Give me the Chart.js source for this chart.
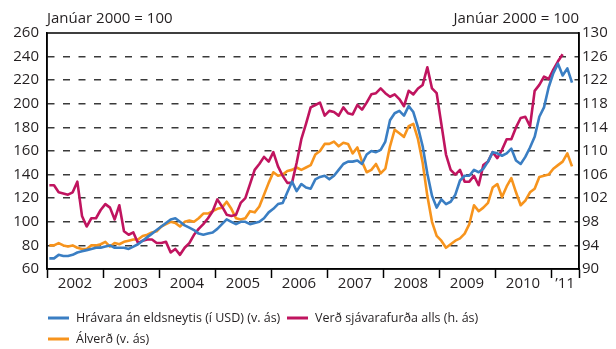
<!DOCTYPE html>
<html lang="is">
<head>
<meta charset="UTF-8">
<title>Hrávöruverð og verð sjávarafurða</title>
<script src="https://cdn.jsdelivr.net/npm/chart.js@4.4.0/dist/chart.umd.min.js"></script>
<style>
  html, body { margin: 0; padding: 0; background: #fff; }
  .wrap { width: 616px; height: 349px; position: relative; }
</style>
</head>
<body>
<div class="wrap"><canvas id="chart"></canvas></div>
<script>
// Mánaðargildi, janúar 2002 - maí 2011 (janúar 2000 = 100)
const hravara = [
  69, 69, 72, 71, 71, 72, 74, 75, 76, 77, 78, 78,
  79, 80, 78, 78, 78, 77, 79, 81, 84, 87, 90, 93,
  96, 99, 102, 103, 100, 97, 95, 93, 90, 89, 90, 91,
  94, 98, 102, 100, 98, 100, 100, 98, 99, 100, 103, 108,
  111, 115, 116, 125, 134, 126, 132, 129, 128, 136, 138, 139,
  136, 139, 144, 149, 151, 151, 152, 149, 157, 160, 159, 161,
  168, 186, 192, 194, 190, 198, 193, 180, 164, 141, 122, 112,
  119, 115, 117, 123, 135, 139, 139, 144, 142, 145, 151, 159,
  158, 156, 158, 162, 152, 149, 155, 163, 172, 189, 197, 214,
  226, 234, 224, 230, 218
];
const sjavarafurdir = [
  104.2, 104.2, 103.0, 102.8, 102.6, 103.0, 104.8, 99.0, 97.2, 98.6, 98.6, 100.0,
  101.0, 100.4, 98.4, 100.8, 96.4, 95.8, 96.2, 94.4, 94.8, 95.0, 95.0, 94.4,
  94.4, 94.6, 92.8, 93.4, 92.4, 93.6, 94.4, 95.8, 96.8, 97.6, 98.6, 99.8,
  101.8, 100.6, 99.2, 99.0, 99.2, 101.2, 102.0, 104.4, 106.8, 107.8, 109.0, 108.2,
  109.8, 107.4, 105.8, 104.6, 104.6, 108.0, 112.0, 114.6, 117.4, 117.8, 118.2, 116.0,
  116.8, 116.6, 116.0, 117.4, 116.4, 116.2, 117.8, 117.0, 118.2, 119.6, 119.8, 120.6,
  119.8, 119.2, 119.6, 118.8, 117.6, 120.2, 119.6, 120.6, 121.2, 124.2, 120.6, 119.8,
  114.6, 109.4, 106.8, 106.0, 106.8, 104.8, 104.8, 105.8, 104.2, 107.6, 108.2, 109.8,
  108.8, 110.2, 112.0, 112.0, 114.0, 115.6, 115.8, 114.2, 120.2, 121.2, 122.6, 122.2,
  123.8, 125.2, 126.4
];
const alverd = [
  80, 80, 82, 80, 79, 80, 78, 77, 77, 80, 80, 81,
  83, 79, 82, 81, 83, 84, 85, 85, 88, 89, 91, 92,
  96, 98, 100, 99, 96, 100, 101, 100, 103, 107, 107, 109,
  111, 112, 117, 111, 103, 102, 103, 109, 108, 113, 123, 133,
  142, 139, 140, 143, 144, 146, 144, 146, 148, 157, 160, 166,
  166, 168, 164, 167, 166, 158, 163, 151, 142, 144, 149, 141,
  145, 164, 178, 175, 172, 181, 183, 170, 150, 122, 100, 88,
  84, 78, 81, 84, 86, 90, 98, 114, 109, 112, 116, 129,
  132, 121, 130, 137, 125, 114, 118, 125, 128, 138, 139, 140,
  145, 148, 151, 158, 147
];
const seriesNames = [
  'Hrávara án eldsneytis (í USD) (v. ás)',
  'Verð sjávarafurða alls (h. ás)',
  'Álverð (v. ás)'
];
const yearLabels = ['2002', '2003', '2004', '2005', '2006', '2007', '2008', '2009', '2010', '\u201911'];
// mánaðarnúmer þar sem hvert ár byrjar (síðasta gildi = hægri brún)
const yearBounds = [0, 12, 24, 36, 48, 60, 72, 84, 96, 108, 114];
const axisTitle = 'Janúar 2000 = 100';

const FONT = "'Open Sans', 'Noto Sans', sans-serif";
const TEXT = '#231f20';
const colors = ['#3a7ec3', '#c0145f', '#f7941d'];

// hvert gildi er teiknað á miðjan mánuð
const toPoints = arr => arr.map((v, i) => ({ x: i + 0.5, y: v }));

// merki á árabilum, ártöl í miðju hvers árs
const yearMid = {};
const xTickValues = [];
yearBounds.forEach((b, i) => {
  xTickValues.push(b);
  if (i < yearBounds.length - 1) {
    const mid = (b + yearBounds[i + 1]) / 2;
    yearMid[mid] = yearLabels[i];
    xTickValues.push(mid);
  }
});

const legendSlots = [
  { x: 48, y: 318 },
  { x: 287, y: 318 },
  { x: 48, y: 339 }
];

const framePlugin = {
  id: 'frame',
  afterDraw(chart) {
    const { ctx, chartArea: a } = chart;
    ctx.save();
    ctx.strokeStyle = '#000';
    ctx.lineWidth = 1.5;
    ctx.strokeRect(a.left, a.top, a.right - a.left, a.bottom - a.top);

    ctx.fillStyle = TEXT;
    ctx.font = '15px ' + FONT;
    ctx.textBaseline = 'middle';
    ctx.textAlign = 'left';
    ctx.fillText(axisTitle, a.left, 19);
    ctx.textAlign = 'right';
    ctx.fillText(axisTitle, a.right, 19);

    // skýringar
    ctx.textAlign = 'left';
    ctx.font = '12.5px ' + FONT;
    chart.data.datasets.forEach((ds, i) => {
      const s = legendSlots[i];
      ctx.fillStyle = ds.borderColor;
      ctx.fillRect(s.x, s.y - 1.5, 21, 3);
      ctx.fillStyle = TEXT;
      ctx.fillText(ds.label, s.x + 28, s.y);
    });
    ctx.restore();
  }
};

const tickFont = { family: FONT, size: 15 };

new Chart(document.getElementById('chart'), {
  type: 'line',
  data: {
    datasets: [
      { label: seriesNames[0], data: toPoints(hravara), borderColor: colors[0], yAxisID: 'y' },
      { label: seriesNames[1], data: toPoints(sjavarafurdir), borderColor: colors[1], yAxisID: 'y2' },
      { label: seriesNames[2], data: toPoints(alverd), borderColor: colors[2], yAxisID: 'y' }
    ]
  },
  options: {
    responsive: true,
    maintainAspectRatio: false,
    animation: false,
    layout: { padding: { top: 33, bottom: 50, left: 0, right: 0 } },
    elements: {
      line: { borderWidth: 2.6, tension: 0, fill: false, borderJoinStyle: 'round' },
      point: { radius: 0 }
    },
    plugins: {
      legend: { display: false },
      tooltip: { enabled: false }
    },
    scales: {
      x: {
        type: 'linear',
        min: 0,
        max: 114,
        afterBuildTicks: scale => { scale.ticks = xTickValues.map(v => ({ value: v })); },
        afterFit: scale => { scale.height = 30; },
        ticks: {
          autoSkip: false,
          maxRotation: 0,
          padding: -3,
          color: TEXT,
          font: tickFont,
          callback: value => yearMid[value] || ''
        },
        grid: {
          drawOnChartArea: false,
          tickLength: 9,
          tickWidth: 1.5,
          tickColor: c => yearBounds.includes(c.tick.value) ? '#000' : 'rgba(0,0,0,0)'
        },
        border: { display: true, color: '#000', width: 1.5 }
      },
      y: {
        position: 'left',
        min: 60,
        max: 260,
        afterFit: scale => { scale.width = 47; },
        ticks: { stepSize: 20, padding: 8, color: TEXT, font: tickFont },
        grid: {
          drawTicks: false,
          lineWidth: 1.5,
          color: c => (c.tick.value === 60 || c.tick.value === 260) ? 'rgba(0,0,0,0)' : '#3a3a3a'
        },
        border: { display: true, color: '#000', width: 1.5, dash: [7, 8.5] }
      },
      y2: {
        position: 'right',
        min: 90,
        max: 130,
        afterFit: scale => { scale.width = 37; },
        ticks: { stepSize: 4, padding: 3, color: TEXT, font: tickFont },
        grid: { drawOnChartArea: false, drawTicks: false },
        border: { display: true, color: '#000', width: 1.5 }
      }
    }
  },
  plugins: [framePlugin]
});
</script>
</body>
</html>
